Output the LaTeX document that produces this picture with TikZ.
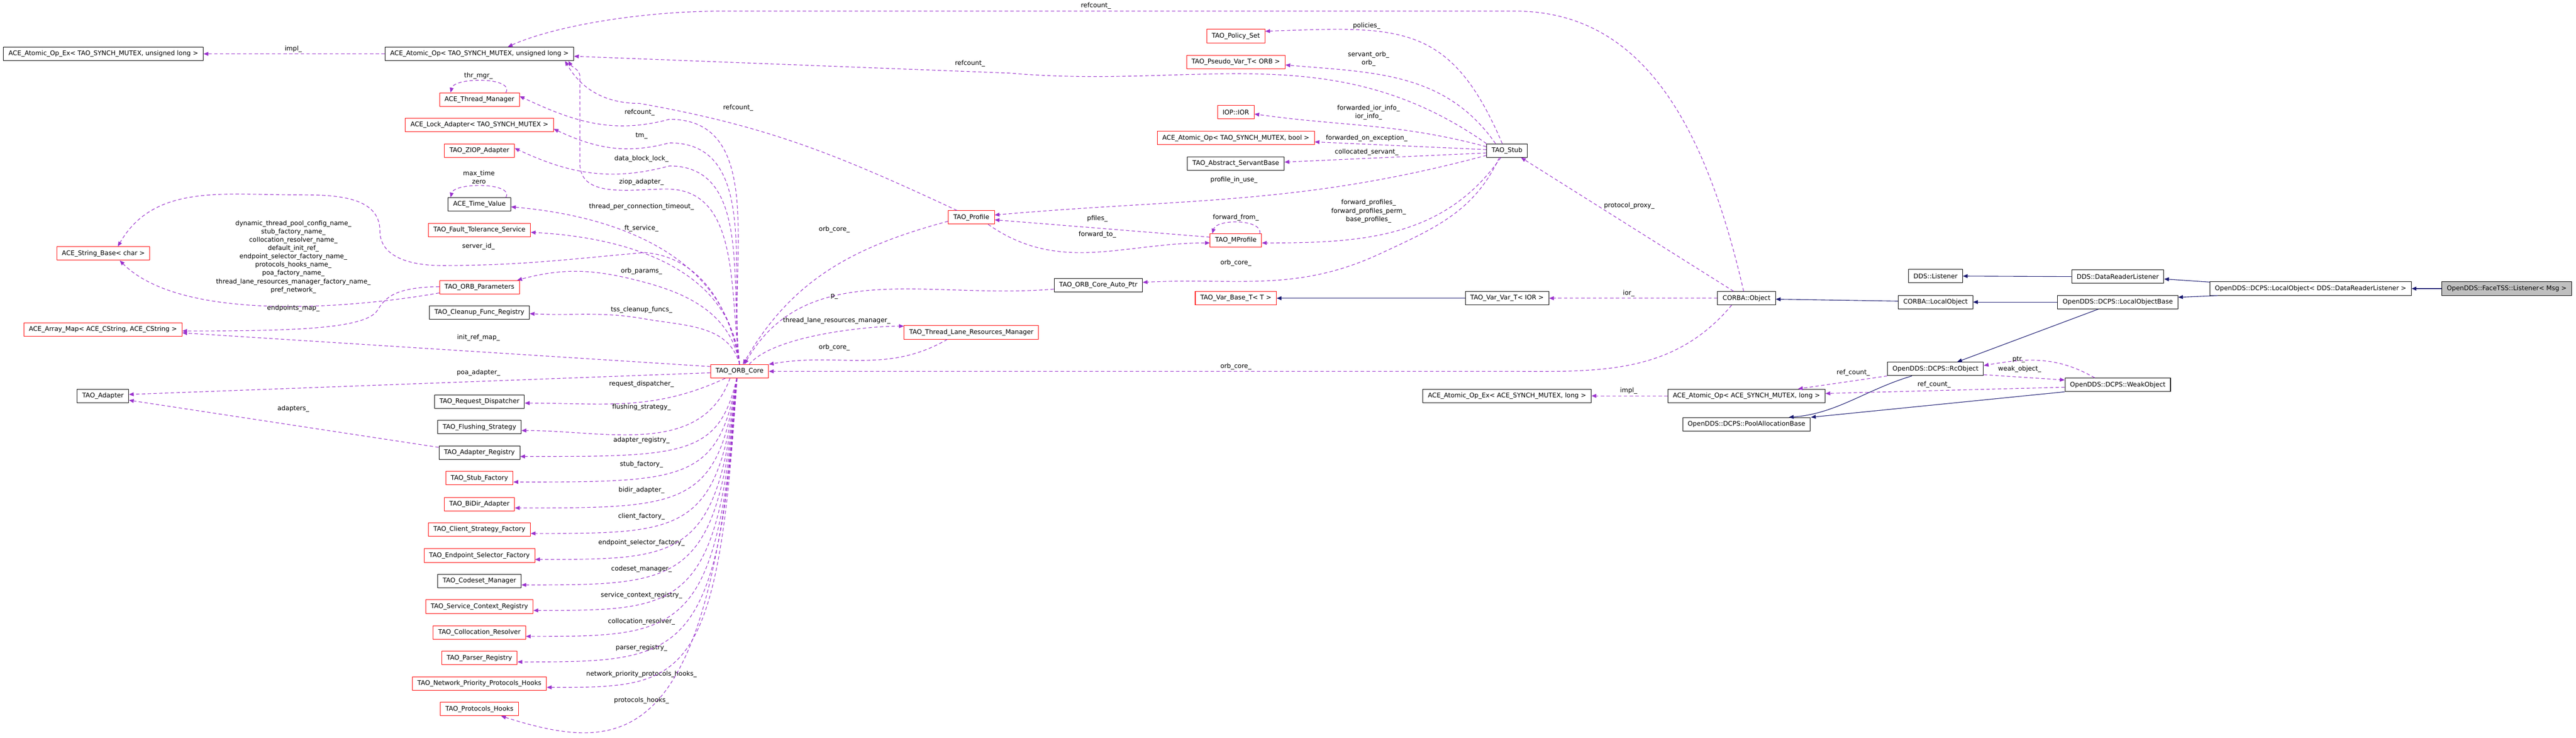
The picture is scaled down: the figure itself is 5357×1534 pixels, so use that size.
\documentclass[tikz,border=0pt]{standalone}
\usepackage{fontspec}
\setmainfont{DejaVu Sans}
\usetikzlibrary{arrows.meta}
\definecolor{edgepurple}{HTML}{9A32CD}
\definecolor{edgeblue}{HTML}{191970}
\tikzset{cls/.style = {draw = black, fill = white, line width = 1.1pt, minimum height = 28pt, inner xsep = 10.5pt, inner ysep = 0pt, font = \fontsize{13.33}{16}\selectfont}}
\tikzset{part/.style = {cls, draw = red}}
\tikzset{root/.style = {cls, fill = black!25}}
\tikzset{member/.style = {draw = edgepurple, line width = 1.2pt, dash pattern = on 7pt off 5pt, -{Triangle[length = 10pt, width = 8pt]}}}
\tikzset{inherit/.style = {draw = edgeblue, line width = 1.2pt, -{Triangle[length = 10pt, width = 8pt]}}}
\tikzset{lbl/.style = {font = \fontsize{13.33}{17.3}\selectfont, align = center, inner sep = 0pt}}

\begin{document}
\begin{tikzpicture}[x = 1pt, y = 1pt]
\useasboundingbox (0,0) rectangle (5357,-1534);
\node [cls] (atomicExUL) at (215,-112) {ACE\_Atomic\_Op\_Ex< TAO\_SYNCH\_MUTEX, unsigned long >};
\node [part] (strBase) at (215,-527) {ACE\_String\_Base< char >};
\node [part] (arrayMap) at (214,-685) {ACE\_Array\_Map< ACE\_CString, ACE\_CString >};
\node [cls] (adapter) at (214,-823) {TAO\_Adapter};
\node [cls] (atomicUL) at (997,-112) {ACE\_Atomic\_Op< TAO\_SYNCH\_MUTEX, unsigned long >};
\node [part] (thrMgr) at (997,-207) {ACE\_Thread\_Manager};
\node [part] (lockAdapter) at (997,-260) {ACE\_Lock\_Adapter< TAO\_SYNCH\_MUTEX >};
\node [part] (ziop) at (997,-313) {TAO\_ZIOP\_Adapter};
\node [cls] (timeValue) at (997,-425) {ACE\_Time\_Value};
\node [part] (ftService) at (997,-478) {TAO\_Fault\_Tolerance\_Service};
\node [part] (orbParams) at (997,-597) {TAO\_ORB\_Parameters};
\node [cls] (cleanup) at (997,-650) {TAO\_Cleanup\_Func\_Registry};
\node [cls] (reqDisp) at (997,-835) {TAO\_Request\_Dispatcher};
\node [cls] (flushing) at (997,-888) {TAO\_Flushing\_Strategy};
\node [part] (protoHooks) at (997,-1474) {TAO\_Protocols\_Hooks};
\node [part] (orbCore) at (1538,-772) {TAO\_ORB\_Core};
\node [part] (profile) at (2020,-452) {TAO\_Profile};
\node [part] (tlrm) at (2020,-691) {TAO\_Thread\_Lane\_Resources\_Manager};
\node [cls] (autoPtr) at (2284,-593) {TAO\_ORB\_Core\_Auto\_Ptr};
\node [part] (policySet) at (2570,-75) {TAO\_Policy\_Set};
\node [part] (pseudoVar) at (2570,-129) {TAO\_Pseudo\_Var\_T< ORB >};
\node [part] (ior) at (2570,-233) {IOP::IOR};
\node [part] (atomicBool) at (2570,-287) {ACE\_Atomic\_Op< TAO\_SYNCH\_MUTEX, bool >};
\node [cls] (servantBase) at (2570,-340) {TAO\_Abstract\_ServantBase};
\node [part] (mprofile) at (2570,-500) {TAO\_MProfile};
\node [part] (varBase) at (2570,-620) {TAO\_Var\_Base\_T< T >};
\node [cls] (stub) at (3134,-313) {TAO\_Stub};
\node [cls] (varVar) at (3134,-620) {TAO\_Var\_Var\_T< IOR >};
\node [cls] (atomicExL) at (3134,-823) {ACE\_Atomic\_Op\_Ex< ACE\_SYNCH\_MUTEX, long >};
\node [cls] (corbaObj) at (3632,-620) {CORBA::Object};
\node [cls] (atomicL) at (3632,-823) {ACE\_Atomic\_Op< ACE\_SYNCH\_MUTEX, long >};
\node [cls] (poolAlloc) at (3632,-882) {OpenDDS::DCPS::PoolAllocationBase};
\node [cls] (ddsListener) at (4025,-574) {DDS::Listener};
\node [cls] (localObj) at (4025,-628) {CORBA::LocalObject};
\node [cls] (rcObj) at (4025,-767) {OpenDDS::DCPS::RcObject};
\node [cls] (drl) at (4404,-575) {DDS::DataReaderListener};
\node [cls] (lob) at (4404,-628) {OpenDDS::DCPS::LocalObjectBase};
\node [cls] (weakObj) at (4404,-800) {OpenDDS::DCPS::WeakObject};
\node [cls] (localObjT) at (4805,-600) {OpenDDS::DCPS::LocalObject< DDS::DataReaderListener >};
\node [root] (face) at (5213,-600) {OpenDDS::FaceTSS::Listener< Msg >};
\foreach \n/\t/\s/\y/\m/\ly in {adapterReg/TAO\_Adapter\_Registry/cls/941/adapter\_registry\_/915, stubFactory/TAO\_Stub\_Factory/part/994/stub\_factory\_/966, bidir/TAO\_BiDir\_Adapter/part/1048/bidir\_adapter\_/1019, clientStrat/TAO\_Client\_Strategy\_Factory/part/1101/client\_factory\_/1074, endpointSel/TAO\_Endpoint\_Selector\_Factory/part/1155/endpoint\_selector\_factory\_/1128, codeset/TAO\_Codeset\_Manager/cls/1208/codeset\_manager\_/1183, svcCtx/TAO\_Service\_Context\_Registry/part/1261/service\_context\_registry\_/1238, colloc/TAO\_Collocation\_Resolver/part/1315/collocation\_resolver\_/1292, parser/TAO\_Parser\_Registry/part/1368/parser\_registry\_/1347, netPrio/TAO\_Network\_Priority\_Protocols\_Hooks/part/1421/network\_priority\_protocols\_hooks\_/1402}
{
\node [\s] (\n) at (997,-\y) {\t};
\node [lbl] (l\n) at (1334,-\ly) {\m};
\draw [member] ([xshift=-6pt]orbCore.south) .. controls (1495,-\y-8) and (1420,-\y-8) .. ([yshift=-8pt]\n.east);
}
\draw [inherit] (face.west) -- (localObjT.east);
\draw [inherit] ([xshift=1pt,yshift=-1pt]localObjT.north west) -- ([yshift=-5pt]drl.east);
\draw [inherit] ([xshift=17pt]localObjT.south west) -- ([yshift=10pt]lob.east);
\draw [inherit] (drl.west) -- (ddsListener.east);
\draw [inherit] (lob.west) -- (localObj.east);
\draw [inherit] ([xshift=-40pt]lob.south) -- ([xshift=45pt]rcObj.north);
\draw [inherit] ([yshift=2pt]localObj.west) -- ([yshift=-2pt]corbaObj.east);
\draw [inherit] ([xshift=-49pt]rcObj.south) .. controls (3880,-810) and (3820,-860) .. ([xshift=88pt]poolAlloc.north);
\draw [inherit] (weakObj.south west) -- ([xshift=134pt]poolAlloc.north);
\draw [inherit] (varVar.west) -- (varBase.east);
\draw [member] ([yshift=-12pt]rcObj.east) -- ([yshift=10pt]weakObj.west);
\draw [member] ([xshift=-48pt]weakObj.north) to[out=150,in=10] ([yshift=7pt]rcObj.east);
\draw [member] ([yshift=-5pt]weakObj.west) -- ([yshift=5pt]atomicL.east);
\draw [member] (rcObj.south west) -- ([xshift=107pt]atomicL.north);
\draw [member] (atomicL.west) -- (atomicExL.east);
\draw [member] (corbaObj.west) -- (varVar.east);
\draw [member] ([xshift=-27pt]corbaObj.north) -- ([xshift=29pt]stub.south);
\draw [member] ([xshift=-31pt]corbaObj.south) to[out=-130,in=0] (3120,-772) -- (orbCore.east);
\draw [member] ([xshift=-6pt]corbaObj.north) .. controls (3540,-230) and (3400,-23) .. (3149,-23) -- (1507,-23) .. controls (1330,-23) and (1150,-55) .. ([xshift=59pt]atomicUL.north);
\draw [member] ([xshift=-10pt]stub.north) to[out=113,in=2,looseness=1.3] ([yshift=10pt]policySet.east);
\draw [member] ([xshift=-24pt]stub.north) to[out=125,in=-5] ([yshift=-6pt]pseudoVar.east);
\draw [member] (stub.north west) to[out=145,in=-5] (2100,-152) -- ([yshift=-5pt]atomicUL.east);
\draw [member] ([yshift=8pt]stub.west) to[out=165,in=-8] ([yshift=-4pt]ior.east);
\draw [member] ([yshift=2pt]stub.west) -- ([yshift=-8pt]atomicBool.east);
\draw [member] ([yshift=-5pt]stub.west) -- ([yshift=3pt]servantBase.east);
\draw [member] ([yshift=-10pt]stub.west) to[out=195,in=5] ([yshift=5pt]profile.east);
\draw [member] ([xshift=-13pt]stub.south) to[out=-125,in=0] ([yshift=-5pt]mprofile.east);
\draw [member] ([xshift=-16pt]stub.south) to[out=-115,in=25] (2871,-527) to[out=205,in=3] ([yshift=6pt]autoPtr.east);
\draw [member] ([yshift=7pt]mprofile.west) -- ([yshift=-5pt]profile.east);
\draw [member] ([xshift=35pt]profile.south) to[out=-35,in=180] ([yshift=-5pt]mprofile.west);
\draw [member] ([xshift=50pt]mprofile.north) .. controls (2625,-455) and (2530,-455) .. ([xshift=-49pt]mprofile.north);
\draw [member] ([xshift=-30pt]profile.north) to[out=155,in=-10] (1330,-215) to[out=180,in=-60] ([xshift=178pt]atomicUL.south);
\draw [member] ([yshift=-8pt]profile.west) to[out=195,in=60] ([xshift=7pt]orbCore.north);
\draw [member] ([yshift=-8pt]autoPtr.west) to[out=185,in=60] ([xshift=10pt]orbCore.north);
\draw [member] ([xshift=20pt]orbCore.north) to[out=50,in=180,looseness=0.6] ([yshift=13pt]tlrm.west);
\draw [member] ([xshift=-50pt]tlrm.south) to[out=-150,in=10] (orbCore.north east);
\draw [member] (orbCore.north) to[out=98,in=0] (1386,-393) to[out=180,in=-90] (1206,-340) -- (1206,-160) to[out=90,in=-60] ([xshift=185pt]atomicUL.south);
\draw [member] (orbCore.north) to[out=97,in=0] (1392,-248) to[out=195,in=-25] ([yshift=7pt]thrMgr.east);
\draw [member] (orbCore.north) to[out=97,in=0] (1392,-297) to[out=195,in=-25] ([yshift=-8pt]lockAdapter.east);
\draw [member] (orbCore.north) to[out=97,in=0] (1392,-345) to[out=195,in=-25] ([yshift=5pt]ziop.east);
\draw [member] (orbCore.north) to[out=97,in=-5] ([yshift=-5pt]timeValue.east);
\draw [member] (orbCore.north) to[out=95,in=-3] ([yshift=-5pt]ftService.east);
\draw [member] (orbCore.north) to[out=100,in=-5] (1341,-525) to[out=185,in=0] (918,-552) to[out=180,in=-90] (790,-480) to[out=90,in=0] (612,-405) to[out=180,in=60] ([xshift=30pt]strBase.north);
\draw [member] (orbCore.north) to[out=100,in=-15] (1341,-587) to[out=165,in=15] ([xshift=-5pt]orbParams.north east);
\draw [member] (orbCore.north) to[out=105,in=-10] (1341,-663) to[out=170,in=-3] ([yshift=-2pt]cleanup.east);
\draw [member] ([yshift=10pt]orbCore.west) -- ([yshift=-7pt]arrayMap.east);
\draw [member] ([yshift=-3pt]orbCore.west) -- ([yshift=3pt]adapter.east);
\draw [member] ([xshift=-30pt]orbCore.south) to[out=-155,in=0] ([yshift=-3pt]reqDisp.east);
\draw [member] ([xshift=-20pt]orbCore.south) to[out=-110,in=0] ([yshift=-7pt]flushing.east);
\draw [member] ([xshift=-5pt]orbCore.south) .. controls (1480,-1560) and (1300,-1570) .. ([xshift=45pt]protoHooks.south);
\draw [member] (atomicUL.west) -- (atomicExUL.east);
\draw [member] ([xshift=55pt]thrMgr.north) .. controls (1070,-160) and (945,-160) .. ([xshift=-60pt]thrMgr.north);
\draw [member] ([xshift=55pt]timeValue.north) .. controls (1070,-379) and (945,-379) .. ([xshift=-60pt]timeValue.north);
\draw [member] ([yshift=-12pt]orbParams.west) to[out=190,in=-45,looseness=0.7] ([xshift=34pt]strBase.south);
\draw [member] ([yshift=1pt]orbParams.west) .. controls (820,-597) and (800,-620) .. (785,-645) .. controls (760,-685) and (600,-688) .. ([yshift=-3pt]arrayMap.east);
\draw [member] ([yshift=11pt]adapterReg.west) -- ([yshift=-9pt]adapter.east);
\node [lbl] (lImplUL) at (610,-102) {impl\_};
\node [lbl] (lRefTop) at (2279,-12) {refcount\_};
\node [lbl] (lThrMgr) at (995,-158) {thr\_mgr\_};
\node [lbl] (lMaxTime) at (996,-368) {max\_time\\zero};
\node [lbl] (lRefCore) at (1330,-234) {refcount\_};
\node [lbl] (lTm) at (1334,-282) {tm\_};
\node [lbl] (lLock) at (1334,-330) {data\_block\_lock\_};
\node [lbl] (lZiop) at (1334,-378) {ziop\_adapter\_};
\node [lbl] (lTimeout) at (1334,-430) {thread\_per\_connection\_timeout\_};
\node [lbl] (lFt) at (1334,-475) {ft\_service\_};
\node [lbl] (lServerId) at (995,-512) {server\_id\_};
\node [lbl] (lOrbParams) at (1334,-564) {orb\_params\_};
\node [lbl] (lCleanup) at (1334,-644) {tss\_cleanup\_funcs\_};
\node [lbl] (lInitRef) at (995,-702) {init\_ref\_map\_};
\node [lbl] (lPoa) at (995,-775) {poa\_adapter\_};
\node [lbl] (lReqDisp) at (1334,-798) {request\_dispatcher\_};
\node [lbl] (lFlushing) at (1334,-847) {flushing\_strategy\_};
\node [lbl] (lProtoHooks) at (1334,-1456) {protocols\_hooks\_};
\node [lbl] (lNames) at (610,-534) {dynamic\_thread\_pool\_config\_name\_\\stub\_factory\_name\_\\collocation\_resolver\_name\_\\default\_init\_ref\_\\endpoint\_selector\_factory\_name\_\\protocols\_hooks\_name\_\\poa\_factory\_name\_\\thread\_lane\_resources\_manager\_factory\_name\_\\pref\_network\_};
\node [lbl] (lEndpoints) at (610,-641) {endpoints\_map\_};
\node [lbl] (lAdapters) at (610,-850) {adapters\_};
\node [lbl] (lRefProfile) at (1535,-224) {refcount\_};
\node [lbl] (lRefStub) at (2017,-132) {refcount\_};
\node [lbl] (lCoreProfile) at (1735,-477) {orb\_core\_};
\node [lbl] (lP) at (1735,-617) {p\_};
\node [lbl] (lTlrm) at (1740,-667) {thread\_lane\_resources\_manager\_};
\node [lbl] (lCoreTlrm) at (1735,-722) {orb\_core\_};
\node [lbl] (lCoreObj) at (2570,-762) {orb\_core\_};
\node [lbl] (lPolicies) at (2842,-54) {policies\_};
\node [lbl] (lServantOrb) at (2846,-122) {servant\_orb\_\\orb\_};
\node [lbl] (lIorInfo) at (2846,-234) {forwarded\_ior\_info\_\\ior\_info\_};
\node [lbl] (lForwardedExc) at (2842,-287) {forwarded\_on\_exception\_};
\node [lbl] (lCollocated) at (2842,-316) {collocated\_servant\_};
\node [lbl] (lProfileInUse) at (2566,-374) {profile\_in\_use\_};
\node [lbl] (lForwardProfiles) at (2846,-439) {forward\_profiles\_\\forward\_profiles\_perm\_\\base\_profiles\_};
\node [lbl] (lPfiles) at (2282,-455) {pfiles\_};
\node [lbl] (lForwardTo) at (2282,-488) {forward\_to\_};
\node [lbl] (lForwardFrom) at (2570,-452) {forward\_from\_};
\node [lbl] (lCoreStub) at (2570,-547) {orb\_core\_};
\node [lbl] (lProxy) at (3388,-428) {protocol\_proxy\_};
\node [lbl] (lIor) at (3387,-610) {ior\_};
\node [lbl] (lRefRc) at (3854,-775) {ref\_count\_};
\node [lbl] (lRefWeak) at (4022,-800) {ref\_count\_};
\node [lbl] (lImplL) at (3387,-812) {impl\_};
\node [lbl] (lPtr) at (4198,-747) {ptr\_};
\node [lbl] (lWeak) at (4200,-767) {weak\_object\_};
\end{tikzpicture}
\end{document}
